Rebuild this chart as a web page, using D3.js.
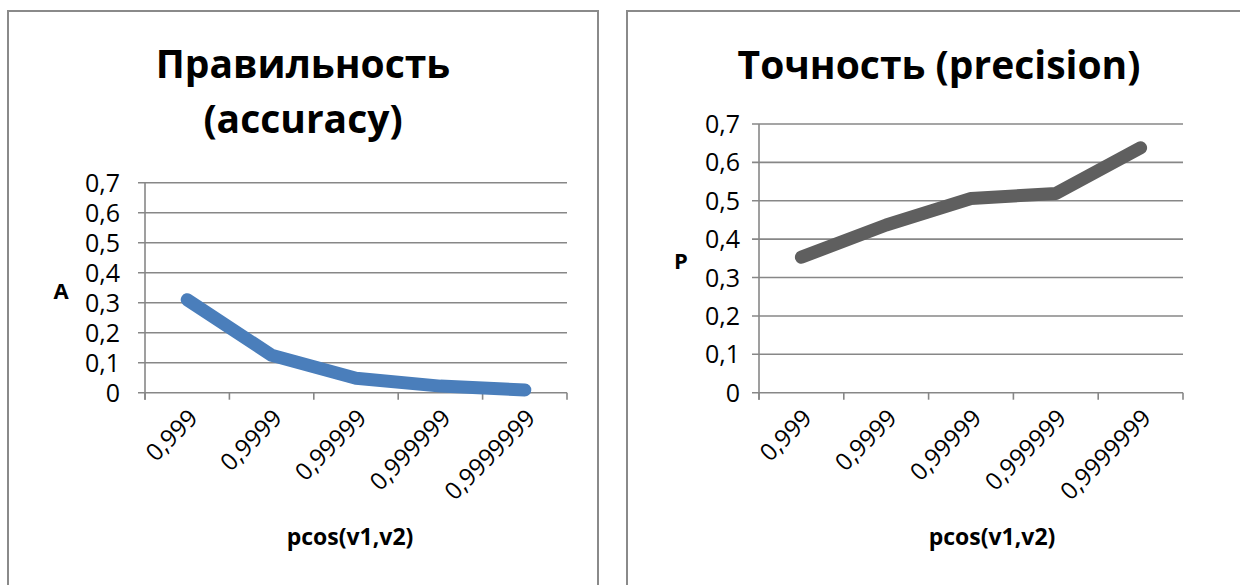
<!DOCTYPE html>
<html>
<head>
<meta charset="utf-8">
<script src="https://cdn.jsdelivr.net/npm/d3@7"></script>
<style>
  html, body { margin: 0; padding: 0; background: #ffffff; }
  svg { display: block; }
  text { font-family: "Open Sans", "DejaVu Sans", sans-serif; fill: #000; }
</style>
</head>
<body>
<svg id="chart" width="1240" height="585"></svg>
<script>
// Thresholds on pcos(v1,v2)
const categories = ["0,999", "0,9999", "0,99999", "0,999999", "0,9999999"];
// Accuracy (A) per threshold
const accuracyValues = [0.31, 0.125, 0.048, 0.022, 0.009];
// Precision (P) per threshold
const precisionValues = [0.353, 0.437, 0.506, 0.519, 0.638];
// Value axis ticks and their labels
const yTicks = [0, 0.1, 0.2, 0.3, 0.4, 0.5, 0.6, 0.7];
const yTickLabels = ["0", "0,1", "0,2", "0,3", "0,4", "0,5", "0,6", "0,7"];

const svg = d3.select("#chart");
const gridColor = "#878787";

const panels = [
  {
    frame: { x: 8, y: 11, w: 590, h: 600 },
    plot: { left: 145, right: 567, top: 182.7, bottom: 392.7 },
    tickGap: 25,
    titleLines: ["Правильность", "(accuracy)"],
    titleX: 303, titleY: [78, 133],
    yLabel: "A", yLabelX: 61, yLabelY: 299,
    xLabelX: 350,
    values: accuracyValues,
    color: "#4a7ebb"
  },
  {
    frame: { x: 627, y: 11, w: 640, h: 600 },
    plot: { left: 759, right: 1183, top: 124, bottom: 392.7 },
    tickGap: 19,
    titleLines: ["Точность (precision)"],
    titleX: 939, titleY: [79],
    yLabel: "P", yLabelX: 681, yLabelY: 269,
    xLabelX: 992,
    values: precisionValues,
    color: "#5f5f5f"
  }
];

panels.forEach(p => {
  const g = svg.append("g");

  // chart area frame
  g.append("rect")
    .attr("x", p.frame.x).attr("y", p.frame.y)
    .attr("width", p.frame.w).attr("height", p.frame.h)
    .attr("fill", "#fff")
    .attr("stroke", "#8a8a8a").attr("stroke-width", 2);

  const x = d3.scaleBand().domain(categories)
    .range([p.plot.left, p.plot.right]).padding(0);
  const y = d3.scaleLinear().domain([0, 0.7])
    .range([p.plot.bottom, p.plot.top]);

  // horizontal gridlines, extended left as tick marks
  g.append("g").selectAll("line").data(yTicks).join("line")
    .attr("x1", p.plot.left - 7).attr("x2", p.plot.right)
    .attr("y1", d => y(d)).attr("y2", d => y(d))
    .attr("stroke", gridColor).attr("stroke-width", 1.6);

  // value axis line
  g.append("line")
    .attr("x1", p.plot.left).attr("x2", p.plot.left)
    .attr("y1", y(0.7)).attr("y2", y(0) + 7)
    .attr("stroke", gridColor).attr("stroke-width", 1.6);

  // category tick marks on the band boundaries
  const bounds = categories.map(c => x(c)).concat([x.range()[1]]);
  g.append("g").selectAll("line").data(bounds).join("line")
    .attr("x1", d => d).attr("x2", d => d)
    .attr("y1", y(0)).attr("y2", y(0) + 7)
    .attr("stroke", gridColor).attr("stroke-width", 1.6);

  // value tick labels
  g.append("g").selectAll("text").data(yTicks).join("text")
    .attr("x", p.plot.left - p.tickGap)
    .attr("y", d => y(d))
    .attr("dy", "0.36em")
    .attr("text-anchor", "end")
    .style("font-size", "25px")
    .text((d, i) => yTickLabels[i]);

  // category labels, rotated
  g.append("g").selectAll("text").data(categories).join("text")
    .attr("transform", d => `translate(${x(d) + x.bandwidth() / 2 + 0},${y(0) + 15}) rotate(-45)`)
    .attr("text-anchor", "end")
    .attr("dy", "0.7em")
    .style("font-size", "24px")
    .text(d => d);

  // title
  g.append("g").selectAll("text").data(p.titleLines).join("text")
    .attr("x", p.titleX)
    .attr("y", (d, i) => p.titleY[i])
    .attr("text-anchor", "middle")
    .style("font-size", "39px").style("font-weight", "700")
    .text(d => d);

  // axis titles
  g.append("text")
    .attr("x", p.yLabelX).attr("y", p.yLabelY)
    .attr("text-anchor", "middle")
    .style("font-size", "22px").style("font-weight", "700")
    .text(p.yLabel);
  g.append("text")
    .attr("x", p.xLabelX).attr("y", 545)
    .attr("text-anchor", "middle")
    .style("font-size", "23px").style("font-weight", "700")
    .text("pcos(v1,v2)");

  // series line
  const line = d3.line()
    .x((d, i) => x(categories[i]) + x.bandwidth() / 2)
    .y(d => y(d));
  g.append("path")
    .datum(p.values)
    .attr("d", line)
    .attr("fill", "none")
    .attr("stroke", p.color)
    .attr("stroke-width", 13)
    .attr("stroke-linecap", "round")
    .attr("stroke-linejoin", "round");
});
</script>
</body>
</html>
